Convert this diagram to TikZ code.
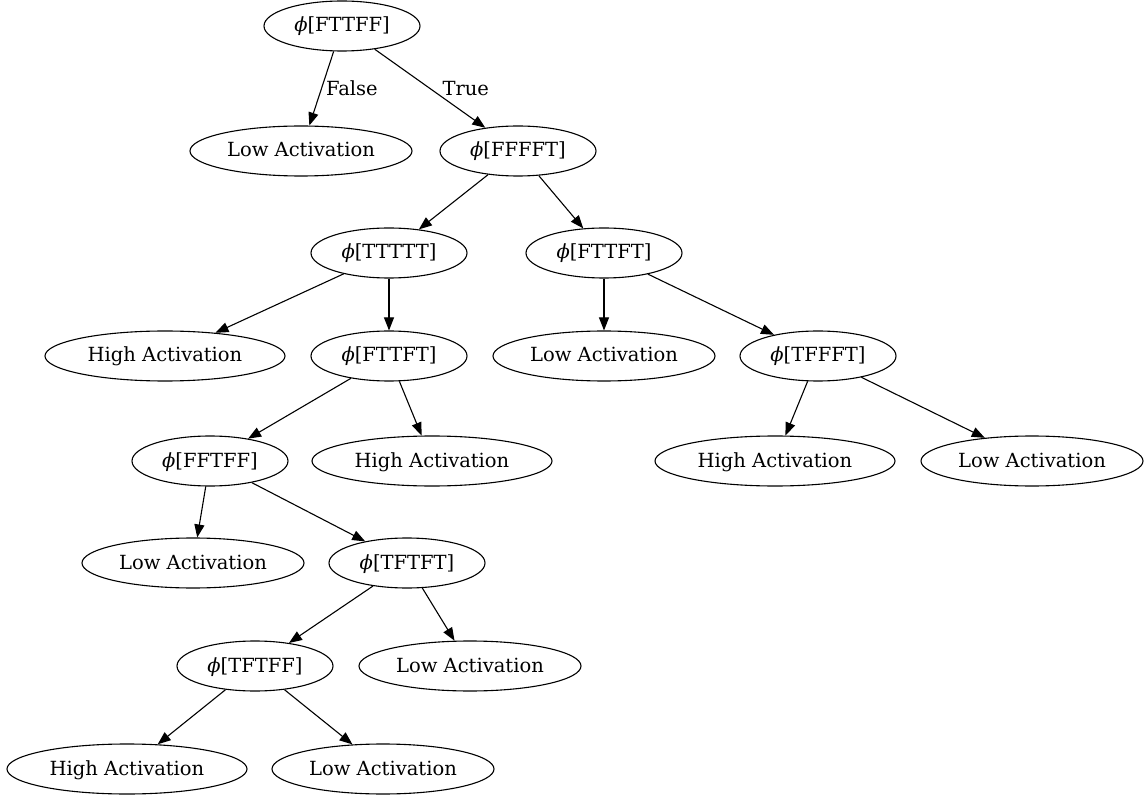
\documentclass[tikz,border=0pt]{standalone}
\usepackage{fontspec}
\setmainfont{DejaVu Serif}
\usetikzlibrary{arrows.meta}
\usetikzlibrary{shapes.geometric}
\newcommand{\ph}{\textit{ϕ}}

\begin{document}
\begin{tikzpicture}[x=1pt,y=-1pt]
\tikzstyle{every node}=[font=\fontsize{19.5}{22}\selectfont]
\tikzstyle{split}=[draw,ellipse,inner sep=0pt,minimum height=50pt,minimum width=156pt,line width=1.1pt,text height=15pt,text depth=3pt]
\tikzstyle{lowleaf}=[split,minimum width=222pt]
\tikzstyle{highleaf}=[split,minimum width=240pt]
\tikzstyle{lbl}=[inner sep=1pt,anchor=west]
\tikzstyle{every edge}=[draw,line width=1.1pt,arrows={-Triangle[length=13pt,width=10pt]}]
\useasboundingbox (0,0) rectangle (1146,799);
\node[split] (root) at (342,26) {\ph[FTTFF]};
\node[lowleaf] (l1) at (301,151) {Low Activation};
\node[split] (n2) at (518,151) {\ph[FFFFT]};
\node[split] (n3) at (389,253) {\ph[TTTTT]};
\node[split] (n4) at (604,253) {\ph[FTTFT]};
\node[highleaf] (h1) at (165,356) {High Activation};
\node[split] (n5) at (389,356) {\ph[FTTFT]};
\node[lowleaf] (l2) at (604,356) {Low Activation};
\node[split] (n6) at (818,356) {\ph[TFFFT]};
\node[split] (n7) at (210,461) {\ph[FFTFF]};
\node[highleaf] (h2) at (432,461) {High Activation};
\node[highleaf] (h3) at (775,461) {High Activation};
\node[lowleaf] (l3) at (1032,461) {Low Activation};
\node[lowleaf] (l4) at (193,563) {Low Activation};
\node[split] (n8) at (407,563) {\ph[TFTFT]};
\node[split] (n9) at (255,666) {\ph[TFTFF]};
\node[lowleaf] (l5) at (470,666) {Low Activation};
\node[highleaf] (h4) at (127,769) {High Activation};
\node[lowleaf] (l6) at (383,769) {Low Activation};
\path (root) edge node[lbl,xshift=3pt] {False} (l1);
\path (root) edge node[lbl,xshift=11pt] {True} (n2);
\path (n2) edge (n3) (n2) edge (n4);
\path (n3) edge (h1) (n3) edge (n5);
\path (n4) edge (l2) (n4) edge (n6);
\path (n5) edge (n7) (n5) edge (h2);
\path (n6) edge (h3) (n6) edge (l3);
\path (n7) edge (l4) (n7) edge (n8);
\path (n8) edge (n9) (n8) edge (l5);
\path (n9) edge (h4) (n9) edge (l6);
\end{tikzpicture}
\end{document}
